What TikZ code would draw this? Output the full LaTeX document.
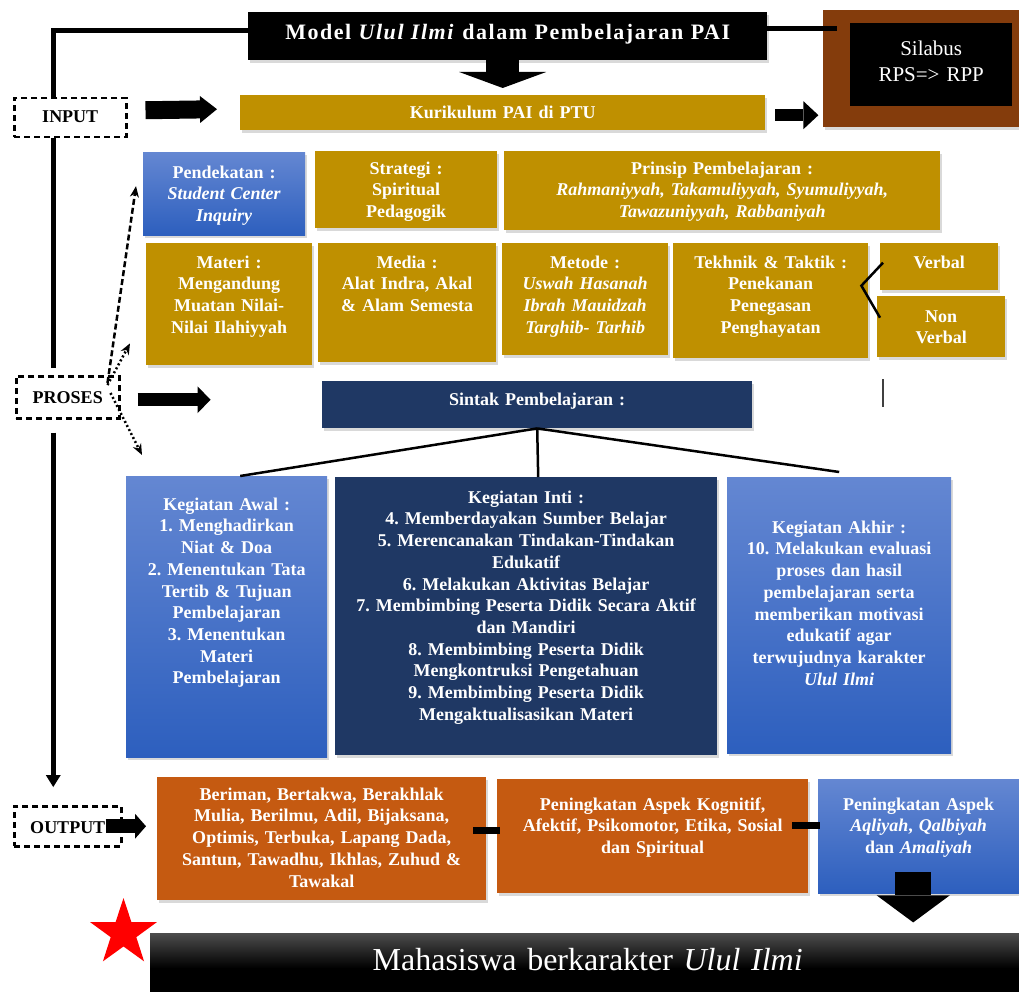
\documentclass[tikz,border=0pt]{standalone}
\usepackage{fontspec}
\setmainfont{Liberation Serif}
\frenchspacing
\usetikzlibrary{shapes.geometric,arrows.meta,shadows}
\definecolor{gold}{RGB}{191,144,0}
\definecolor{navy}{RGB}{31,56,100}
\definecolor{rust}{RGB}{197,90,17}
\definecolor{chestnut}{RGB}{132,60,12}
\definecolor{bluetop}{RGB}{100,135,210}
\definecolor{bluebot}{RGB}{45,95,190}
\begin{document}
\begin{tikzpicture}[x=1pt, y=-1pt,
    every node/.style={inner sep=0pt, align=center, font=\fontsize{18}{21.7}\selectfont\bfseries},
    box/.style={anchor=north west, text=white, drop shadow={opacity=.3, shadow xshift=2pt, shadow yshift=-3pt}},
    goldbox/.style={box, fill=gold},
    bluebox/.style={box, top color=bluetop, bottom color=bluebot},
    navybox/.style={box, fill=navy},
    rustbox/.style={box, fill=rust},
    tag/.style={anchor=north west, draw, line width=2.5pt, dash pattern=on 6pt off 4pt},
    fat/.style args={#1/#2/#3}{line width=#1, -{Triangle[width=#2, length=#3, line width=0pt]}},
    thin arrow/.style={line width=2.5pt, -{Stealth[length=11pt, width=9pt]}}]
\useasboundingbox (0,0) rectangle (1019,992);

\node[box, fill=black, text width=519pt, text height=27pt, text depth=21pt,
      font=\fontsize{22}{26}\selectfont\bfseries\addfontfeature{LetterSpace=7}] (title) at (248,12)
    {Model \textit{Ulul Ilmi} dalam Pembelajaran PAI};
\node[box, fill=chestnut, minimum width=202pt, minimum height=117pt] (brown) at (823,10) {};
\node[anchor=north west, fill=black, text=white, text width=162pt, text height=32pt, text depth=51pt,
      font=\fontsize{21}{26}\selectfont] (silabus) at (850,23) {Silabus\\RPS=> RPP};

\node[tag, text width=112pt, text height=24pt, text depth=15pt] (input) at (13,97) {INPUT};
\node[tag, text width=103pt, text height=27pt, text depth=15pt] (proses) at (15,375) {PROSES};
\node[tag, text width=107pt, text height=27pt, text depth=13pt] (output) at (13,805) {OUTPUT};

\node[goldbox, text width=525pt, text height=23pt, text depth=12pt] (kur) at (240,95) {Kurikulum PAI di PTU};

\node[bluebox, text width=162pt, text height=26pt, text depth=57pt] (pend) at (143,152)
    {Pendekatan :\\ \textit{Student Center}\\ \textit{Inquiry}};
\node[goldbox, text width=182pt, text height=23pt, text depth=54pt] (strategi) at (315,151)
    {Strategi :\\Spiritual\\Pedagogik};
\node[goldbox, text width=436pt, text height=23pt, text depth=56pt] (prinsip) at (504,151)
    {Prinsip Pembelajaran :\\ \textit{Rahmaniyyah, Takamuliyyah, Syumuliyyah,}\\ \textit{Tawazuniyyah, Rabbaniyah}};

\node[goldbox, text width=166pt, text height=25pt, text depth=97pt] (materi) at (146,243)
    {Materi :\\Mengandung\\Muatan Nilai-\\Nilai Ilahiyyah};
\node[goldbox, text width=178pt, text height=25pt, text depth=94pt] (media) at (318,243)
    {Media :\\Alat Indra, Akal\\\& Alam Semesta};
\node[goldbox, text width=166pt, text height=25pt, text depth=87pt] (metode) at (502,243)
    {Metode :\\ \textit{Uswah Hasanah}\\ \textit{Ibrah Mauidzah}\\ \textit{Targhib- Tarhib}};
\node[goldbox, text width=195pt, text height=25pt, text depth=90pt] (tekhnik) at (673,243)
    {Tekhnik \& Taktik :\\Penekanan\\Penegasan\\Penghayatan};
\node[goldbox, text width=118pt, text height=25pt, text depth=22pt] (verbal) at (880,243) {Verbal};
\node[goldbox, text width=128pt, text height=26pt, text depth=35pt] (nonverbal) at (877,296) {Non\\Verbal};

\node[navybox, text width=430pt, text height=24pt, text depth=23pt] (sintak) at (322,381) {Sintak Pembelajaran :};

\node[bluebox, text width=201pt, text height=34pt, text depth=247pt] (awal) at (126,476)
    {Kegiatan Awal :\\1. Menghadirkan\\Niat \& Doa\\2. Menentukan Tata\\Tertib \& Tujuan\\Pembelajaran\\3. Menentukan\\Materi\\Pembelajaran};
\node[navybox, text width=382pt, text height=26pt, text depth=252pt] (inti) at (335,477)
    {Kegiatan Inti :\\4. Memberdayakan Sumber Belajar\\5. Merencanakan Tindakan-Tindakan\\Edukatif\\6. Melakukan Aktivitas Belajar\\7. Membimbing Peserta Didik Secara Aktif\\dan Mandiri\\8. Membimbing Peserta Didik\\Mengkontruksi Pengetahuan\\9. Membimbing Peserta Didik\\Mengaktualisasikan Materi};
\node[bluebox, text width=224pt, text height=56pt, text depth=220pt] (akhir) at (727,477)
    {Kegiatan Akhir :\\10. Melakukan evaluasi\\proses dan hasil\\pembelajaran serta\\memberikan motivasi\\edukatif agar\\terwujudnya karakter\\ \textit{Ulul Ilmi}};

\node[rustbox, text width=329pt, text height=23pt, text depth=100pt] (box1) at (157,777)
    {Beriman, Bertakwa, Berakhlak\\Mulia, Berilmu, Adil, Bijaksana,\\Optimis, Terbuka, Lapang Dada,\\Santun, Tawadhu, Ikhlas, Zuhud \&\\Tawakal};
\node[rustbox, text width=311pt, text height=31pt, text depth=83pt] (box2) at (497,779)
    {Peningkatan Aspek Kognitif,\\Afektif, Psikomotor, Etika, Sosial\\dan Spiritual};
\node[bluebox, text width=201pt, text height=31pt, text depth=83pt] (box3) at (818,779)
    {Peningkatan Aspek\\ \textit{Aqliyah}, \textit{Qalbiyah}\\dan \textit{Amaliyah}};

\node[box, top color=black!70, bottom color=black, middle color=black, text width=875pt,
      text height=37pt, text depth=33pt, font=\fontsize{32}{38}\selectfont] (goal) at (150,933)
    {Mahasiswa berkarakter \textit{Ulul Ilmi}};
\node[star, star points=5, star point ratio=2.6, fill=red, minimum size=70pt] (redstar) at (123.5,933) {};

\draw[line width=5pt] ([yshift=6pt]title.west) -| ([xshift=-17pt]input.north);
\draw[line width=5pt] ([yshift=8pt]title.east) -- ([xshift=14pt,yshift=8pt]title.east -| brown.west);
\draw[line width=5pt] ([xshift=-17pt]input.south) -- +(0,229);
\draw[fat={5pt/15pt/12pt}] ([xshift=-14.5pt,yshift=-13pt]proses.south) -- ([xshift=-14.5pt,yshift=18pt]output.north);

\draw[fat={33pt/87pt/16pt}] (title.south -| kur.north) -- ([yshift=7pt]kur.north);
\draw[fat={18pt/27pt/17pt}] ([xshift=18pt,yshift=7.5pt]input.east) -- ([xshift=-23pt,yshift=3.5pt]kur.west);
\draw[fat={12pt/28pt/15pt}] ([xshift=10pt,yshift=-2.5pt]kur.east) -- +(43,0);
\draw[fat={13pt/27pt/13pt}] ([xshift=17pt,yshift=-2.5pt]proses.east) -- ([xshift=90pt,yshift=-2.5pt]proses.east);
\draw[fat={14pt/25pt/11pt}] ([xshift=-17pt]output.east) -- ([xshift=-11pt]output.east -| box1.west);
\draw[fat={36pt/73pt/27pt}] ([xshift=-5.5pt,yshift=21pt]box3.south) -- ([xshift=-5.5pt,yshift=-29pt]box3.south);

\draw[thin arrow, dash pattern=on 6pt off 3pt] ([xshift=-13pt,yshift=-8pt]proses.north east) -- ([xshift=-7pt,yshift=7.5pt]pend.west);
\draw[thin arrow, dash pattern=on 2pt off 2.5pt] ([xshift=-13pt,yshift=-10pt]proses.north east) -- ([xshift=-16pt,yshift=22pt]materi.south west);
\draw[thin arrow, dash pattern=on 2pt off 2.5pt] ([xshift=-10pt,yshift=-18pt]proses.north east) -- ([xshift=16pt,yshift=21pt]awal.north west);

\draw[line width=2.5pt] ([xshift=3pt,yshift=4pt]verbal.west) -- ([xshift=-7pt,yshift=15pt]tekhnik.east) -- ([xshift=3pt,yshift=9pt]nonverbal.west);
\draw[line width=1.5pt, black!75] (883,379) -- (883,407);

\foreach \t/\dx/\dy in {awal/13.5/0, inti/12/0, akhir/0/5}
{
    \draw[line width=2.5pt] (sintak.south) -- ([xshift=\dx pt,yshift=\dy pt]\t.north);
}

\draw[line width=7pt] ([xshift=-13pt,yshift=8.5pt]box1.east) -- ([xshift=3pt,yshift=8.5pt]box1.east -| box2.west);
\draw[line width=7pt] ([xshift=-16pt,yshift=11pt]box2.east) -- ([xshift=2pt,yshift=11pt]box2.east -| box3.west);

\end{tikzpicture}
\end{document}
